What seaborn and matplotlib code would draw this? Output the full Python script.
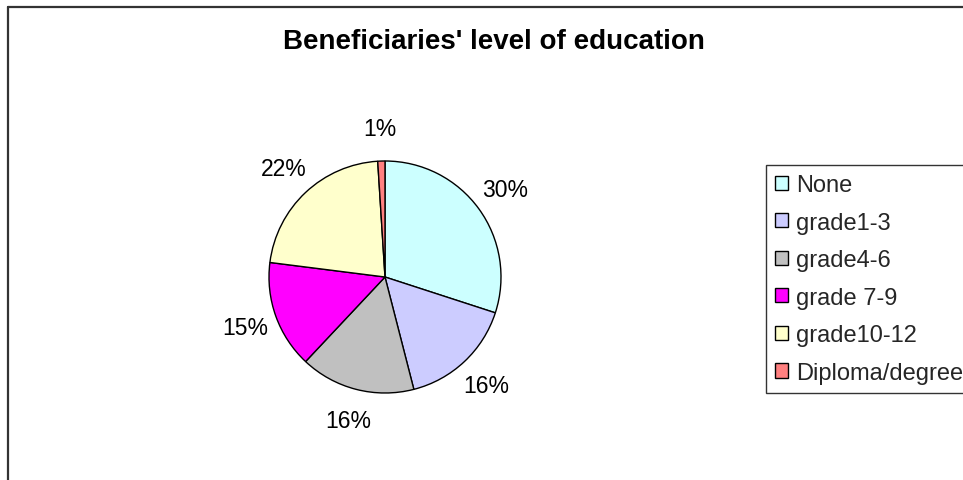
import matplotlib
matplotlib.use("Agg")
import matplotlib.pyplot as plt
from matplotlib.lines import Line2D
import seaborn as sns

# Education level of beneficiaries (percent of total)
categories = ["None", "grade1-3", "grade4-6", "grade 7-9", "grade10-12", "Diploma/degree"]
shares = [30, 16, 16, 15, 22, 1]
colors = ["#CCFFFF", "#CCCCFF", "#C0C0C0", "#FF00FF", "#FFFFCC", "#FF8080"]
title = "Beneficiaries' level of education"

sns.set_theme(style="white")
plt.rcParams["font.family"] = ["Liberation Sans", "DejaVu Sans"]

W, H = 963, 481
fig = plt.figure(figsize=(W / 100, H / 100), dpi=100)
fig.patch.set_facecolor("white")

# outer chart-area border (top and left edges fall inside the canvas)
fig.add_artist(Line2D([8 / W, 1.0], [1 - 8 / H, 1 - 8 / H], color="#333333", lw=1.6,
                      transform=fig.transFigure))
fig.add_artist(Line2D([8 / W, 8 / W], [0.0, 1 - 8 / H], color="#333333", lw=1.6,
                      transform=fig.transFigure))

# pie axes: centre (385, 278) px, radius 116 px
cx, cy, r = 385, 278, 116
ax = fig.add_axes([(cx - r) / W, (H - cy - r) / H, 2 * r / W, 2 * r / H])
palette = sns.color_palette(colors)
wedges, texts, autotexts = ax.pie(
    shares,
    colors=palette,
    startangle=90,
    counterclock=False,
    autopct="%.0f%%",
    pctdistance=1.28,
    wedgeprops=dict(edgecolor="black", linewidth=1.0),
    textprops=dict(fontsize=16.5, color="black"),
)
ax.set_xlim(-1, 1)
ax.set_ylim(-1, 1)
ax.set_aspect("equal")
ax.axis("off")

fig.text(494 / W, 1 - 49 / H, title, ha="center", va="baseline",
         fontsize=20, fontweight="bold", color="black")

leg = fig.legend(
    wedges, categories,
    loc="upper left",
    bbox_to_anchor=(766 / W, 1 - 166 / H),
    bbox_transform=fig.transFigure,
    fontsize=17,
    frameon=True,
    fancybox=False,
    shadow=False,
    borderaxespad=0,
    borderpad=0.38,
    labelspacing=0.66,
    handlelength=0.55,
    handleheight=0.55,
    handletextpad=0.35,
)
leg.get_frame().set_edgecolor("black")
leg.get_frame().set_linewidth(1.0)
leg.get_frame().set_facecolor("white")

fig.savefig("out.png", dpi=100)
